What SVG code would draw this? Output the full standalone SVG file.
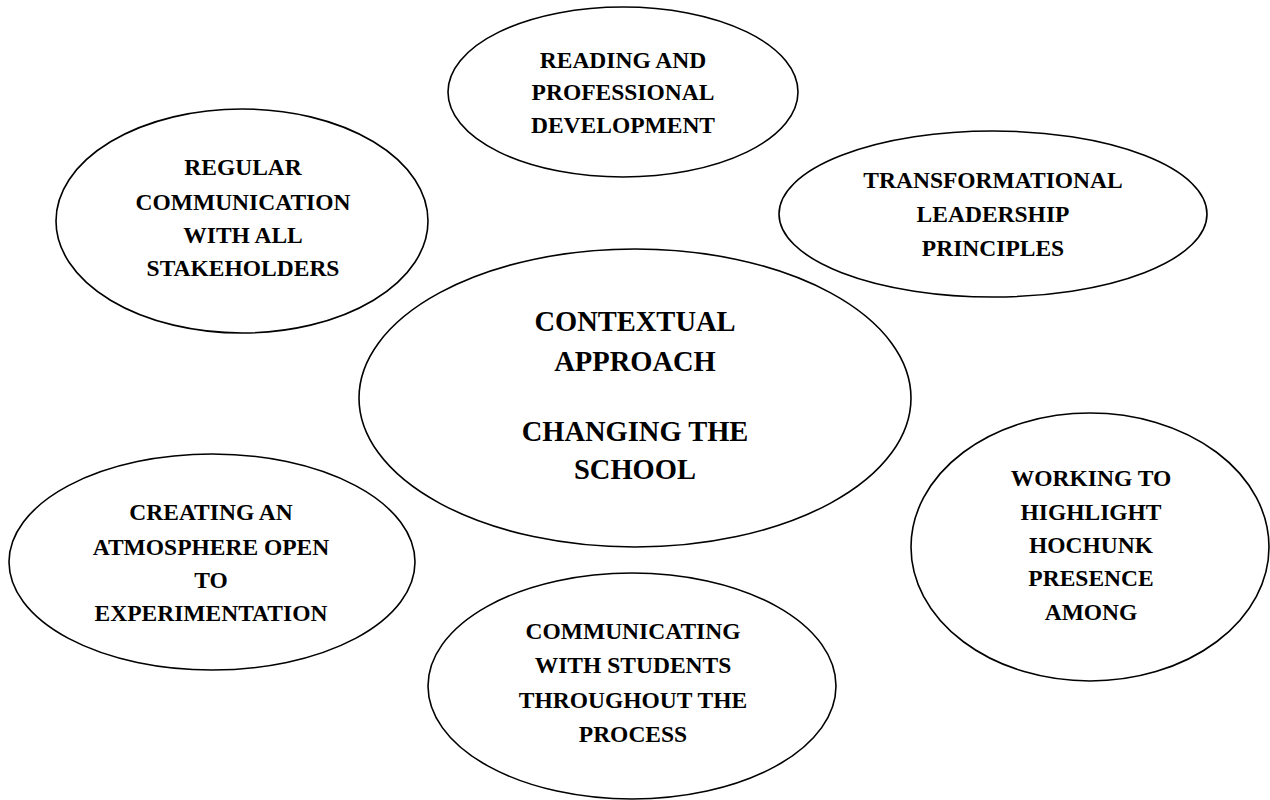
<svg xmlns="http://www.w3.org/2000/svg" width="1270" height="800" viewBox="0 0 1270 800">
<style>
.bg{fill:#ffffff}
.oval{fill:#ffffff;stroke:#000000;stroke-width:1.6}
.t{font-family:"Liberation Serif","Times New Roman",serif;font-weight:bold;font-size:23.5px;fill:#000000;text-anchor:middle}
.tc{font-family:"Liberation Serif","Times New Roman",serif;font-weight:bold;font-size:28.5px;fill:#000000;text-anchor:middle}
</style>
<rect class="bg" x="0" y="0" width="1270" height="800"/>
<g id="connectors"></g>
<g id="node-reading">
<ellipse class="oval" cx="623" cy="92" rx="175" ry="85"/>
<text class="t" x="623" y="68">READING AND</text>
<text class="t" x="623" y="100">PROFESSIONAL</text>
<text class="t" x="623" y="133">DEVELOPMENT</text>
</g>
<g id="node-regular">
<ellipse class="oval" cx="242" cy="221" rx="186" ry="112"/>
<text class="t" x="243" y="175">REGULAR</text>
<text class="t" x="243" y="210">COMMUNICATION</text>
<text class="t" x="243" y="243">WITH ALL</text>
<text class="t" x="243" y="276">STAKEHOLDERS</text>
</g>
<g id="node-transformational">
<ellipse class="oval" cx="993" cy="214" rx="214" ry="83"/>
<text class="t" x="993" y="188">TRANSFORMATIONAL</text>
<text class="t" x="993" y="222">LEADERSHIP</text>
<text class="t" x="993" y="256">PRINCIPLES</text>
</g>
<g id="node-central">
<ellipse class="oval" cx="635" cy="398" rx="276" ry="149"/>
<text class="tc" x="635" y="331">CONTEXTUAL</text>
<text class="tc" x="635" y="371">APPROACH</text>
<text class="tc" x="635" y="441">CHANGING THE</text>
<text class="tc" x="635" y="479">SCHOOL</text>
</g>
<g id="node-creating">
<ellipse class="oval" cx="212" cy="562" rx="203" ry="108"/>
<text class="t" x="211" y="520">CREATING AN</text>
<text class="t" x="211" y="555">ATMOSPHERE OPEN</text>
<text class="t" x="211" y="588">TO</text>
<text class="t" x="211" y="621">EXPERIMENTATION</text>
</g>
<g id="node-communicating">
<ellipse class="oval" cx="632" cy="686" rx="204" ry="113"/>
<text class="t" x="633" y="639">COMMUNICATING</text>
<text class="t" x="633" y="673">WITH STUDENTS</text>
<text class="t" x="633" y="708">THROUGHOUT THE</text>
<text class="t" x="633" y="742">PROCESS</text>
</g>
<g id="node-hochunk">
<ellipse class="oval" cx="1090" cy="547" rx="179" ry="134"/>
<text class="t" x="1091" y="486">WORKING TO</text>
<text class="t" x="1091" y="520">HIGHLIGHT</text>
<text class="t" x="1091" y="553">HOCHUNK</text>
<text class="t" x="1091" y="586">PRESENCE</text>
<text class="t" x="1091" y="620">AMONG</text>
</g>
</svg>
